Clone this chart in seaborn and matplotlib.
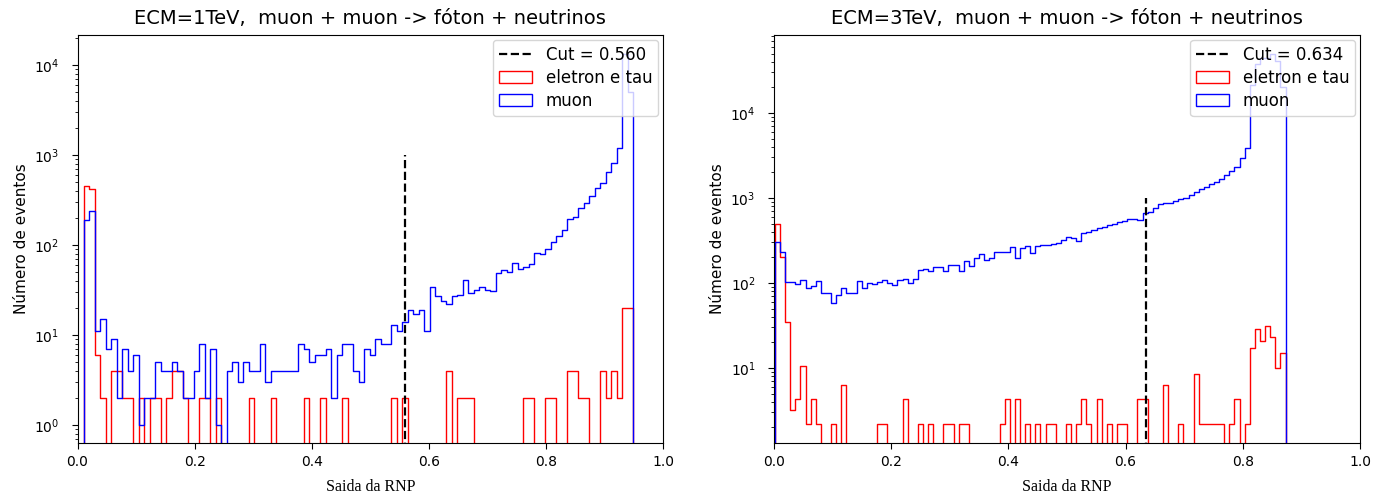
import numpy as np
import pandas as pd
import matplotlib
matplotlib.use("Agg")
import matplotlib.pyplot as plt
from matplotlib.patches import Patch
from matplotlib.lines import Line2D
import seaborn as sns

N_BINS = 100

# ---------------- ECM = 1 TeV ----------------
title_1tev = "ECM=1TeV,  muon + muon -> fóton + neutrinos"
range_1tev = (0.011, 0.949)
cut_1tev = 0.560
muon_1tev = [
    190, 239, 11, 15, 7, 9, 2, 7, 4, 6,
    1, 2, 2, 5, 4, 4, 5, 4, 2, 2,
    4, 8, 2, 7, 1, 0, 4, 5, 3, 5,
    4, 4, 8, 3, 4, 4, 4, 4, 4, 8,
    7, 5, 6, 6, 7, 2, 6, 8, 8, 4,
    3, 7, 6, 9, 8, 8, 13, 11, 14, 19,
    17, 19, 11, 34, 27, 24, 22, 27, 28, 41,
    29, 32, 34, 32, 31, 49, 53, 50, 63, 54,
    57, 61, 82, 79, 90, 109, 126, 147, 194, 206,
    256, 290, 353, 426, 493, 653, 808, 1206, 13200, 5000,
]
eltau_1tev = [
    450, 420, 6, 2, 0, 4, 4, 2, 2, 0,
    2, 0, 2, 2, 0, 2, 4, 4, 2, 0,
    0, 2, 2, 0, 2, 0, 0, 0, 0, 0,
    2, 0, 0, 0, 2, 0, 0, 0, 0, 0,
    2, 0, 0, 2, 0, 0, 0, 2, 0, 0,
    0, 0, 0, 0, 0, 0, 2, 0, 2, 0,
    0, 0, 0, 0, 0, 0, 4, 0, 2, 2,
    2, 0, 0, 0, 0, 0, 0, 0, 0, 0,
    2, 2, 0, 0, 2, 2, 0, 0, 4, 4,
    2, 2, 0, 0, 4, 2, 4, 2, 20, 20,
]

# ---------------- ECM = 3 TeV ----------------
title_3tev = "ECM=3TeV,  muon + muon -> fóton + neutrinos"
range_3tev = (0.002, 0.8727)
cut_3tev = 0.634
muon_3tev = [
    306, 234, 104, 104, 97, 110, 88, 92, 106, 77,
    76, 59, 72, 87, 76, 76, 106, 87, 99, 97,
    104, 110, 101, 95, 110, 113, 99, 113, 142, 147,
    140, 156, 153, 140, 163, 163, 140, 183, 160, 199,
    219, 186, 199, 234, 234, 234, 268, 199, 256, 272,
    227, 272, 280, 280, 287, 293, 321, 350, 335, 314,
    390, 402, 420, 443, 460, 485, 494, 518, 541, 570,
    570, 552, 670, 690, 754, 850, 880, 880, 930, 965,
    1010, 1084, 1165, 1265, 1335, 1450, 1560, 1670, 1860, 2100,
    2340, 2930, 3840, 21500, 38000, 44000, 45000, 50000, 41000, 20000,
]
eltau_3tev = [
    500, 200, 35, 3.2, 4.3, 10.6, 2.2, 4.3, 2.2, 0,
    0, 2.2, 0, 6.4, 0, 0, 0, 0, 0, 0,
    2.2, 2.2, 0, 0, 0, 4.3, 0, 0, 2.2, 0,
    2.2, 0, 0, 2.2, 2.2, 0, 2.2, 2.2, 0, 0,
    0, 0, 0, 0, 2.2, 4.3, 0, 4.3, 0, 2.2,
    0, 2.2, 0, 2.2, 2.2, 0, 0, 2.2, 0, 2.2,
    4.3, 2.2, 0, 4.3, 0, 2.2, 0, 2.2, 2.2, 0,
    0, 4.3, 4.3, 0, 0, 0, 6.4, 0, 0, 2.2,
    0, 0, 8.5, 2.2, 2.2, 2.2, 2.2, 2.2, 0, 2.2,
    4.3, 0, 2.2, 17, 29, 21, 31, 23, 10, 15,
]

LABEL_ELTAU = "eletron e tau"
LABEL_MUON = "muon"
XLABEL = "Saida da RNP"
YLABEL = "Número de eventos"


def draw_panel(ax, bin_range, eltau, muon, cut, title, ylim):
    lo, hi = bin_range
    edges = np.linspace(lo, hi, N_BINS + 1)
    width = edges[1] - edges[0]
    centers = 0.5 * (edges[:-1] + edges[1:])
    # one empty bin on each side so the outline drops to the baseline
    bins = [lo - width] + list(edges) + [hi + width]

    for counts, color in ((eltau, "red"), (muon, "blue")):
        df = pd.DataFrame({"saida": centers, "n": counts})
        sns.histplot(data=df, x="saida", weights="n", bins=bins,
                     element="step", fill=False, color=color,
                     linewidth=1.0, ax=ax)

    ax.set_yscale("log")
    ax.vlines(cut, 0.1, 1000, colors="black", linestyles="--", linewidth=1.6)

    ax.set_xlim(0, 1)
    ax.set_ylim(*ylim)
    ax.set_title(title, fontsize=14, pad=8)
    ax.set_xlabel(XLABEL, family="Liberation Serif", fontsize=11.5, labelpad=7)
    ax.set_ylabel(YLABEL, fontsize=11)
    ax.tick_params(axis="y", which="major", length=4, pad=9, labelsize=10)
    ax.tick_params(axis="x", which="major", length=4, pad=4.5, labelsize=10)

    handles = [
        Line2D([], [], color="black", linestyle="--", linewidth=1.6),
        Patch(facecolor="none", edgecolor="red"),
        Patch(facecolor="none", edgecolor="blue"),
    ]
    labels = [f"Cut = {cut:.3f}", LABEL_ELTAU, LABEL_MUON]
    ax.legend(handles, labels, loc="upper right", fontsize=12,
              labelspacing=0.31, borderpad=0.35, borderaxespad=0.3)


fig = plt.figure(figsize=(13.76, 4.97), dpi=100)
W, H = 1376, 497
ax1 = fig.add_axes([77.5 / W, 54 / H, 585.5 / W, 408 / H])
ax2 = fig.add_axes([773.7 / W, 54 / H, 586.5 / W, 408 / H])

draw_panel(ax1, range_1tev, eltau_1tev, muon_1tev, cut_1tev, title_1tev,
           (10 ** -0.2, 10 ** 4.333))
draw_panel(ax2, range_3tev, eltau_3tev, muon_3tev, cut_3tev, title_3tev,
           (10 ** 0.118, 10 ** 4.918))

fig.savefig("out.png", dpi=100)
